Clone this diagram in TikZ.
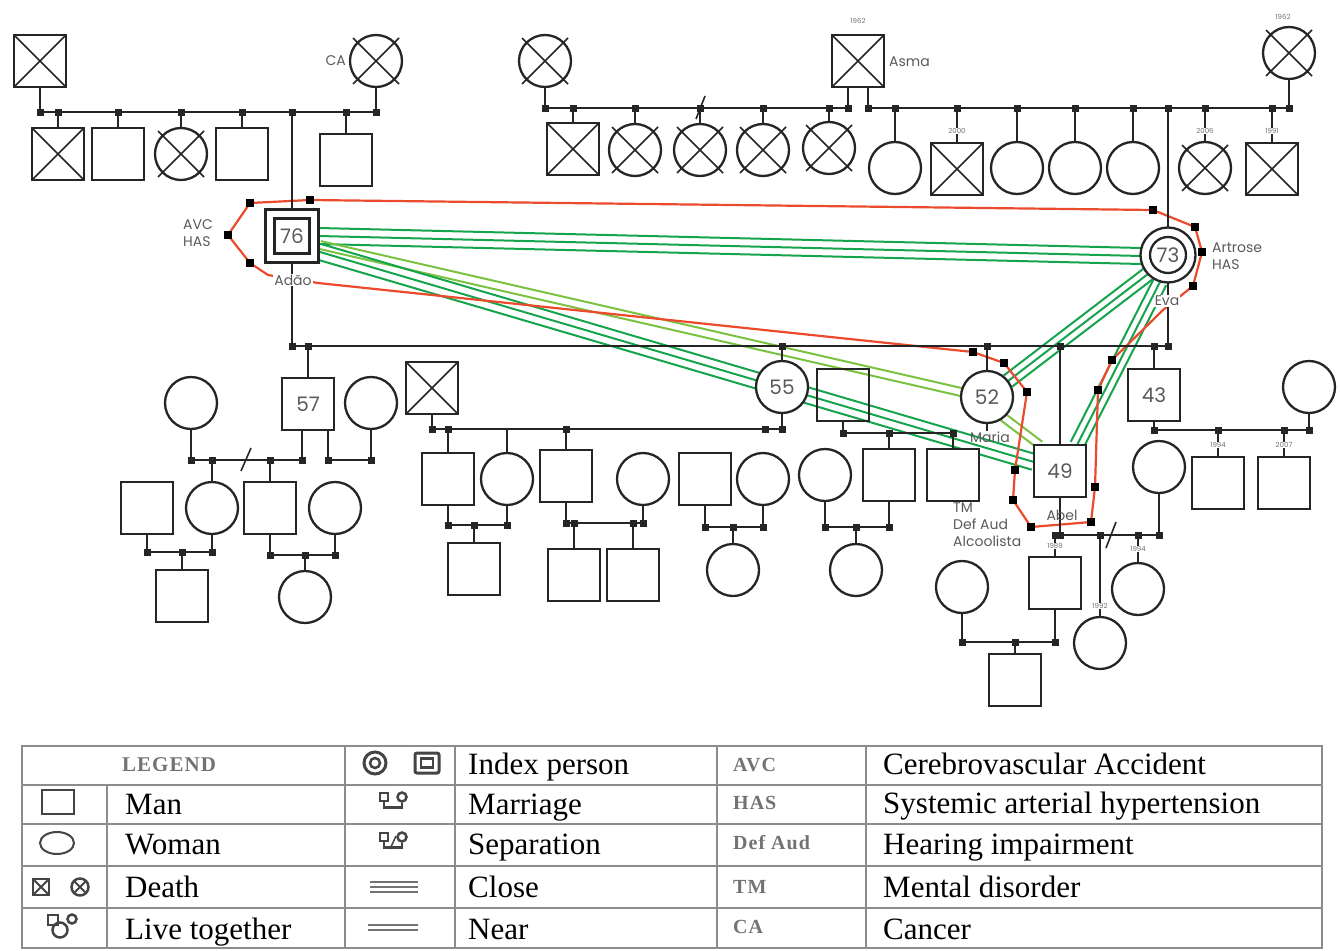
\documentclass[tikz,border=0pt]{standalone}
\usepackage{fontspec}
\setmainfont{Liberation Serif}
\newfontfamily\gfont{Poppins}
\newfontfamily\abfont[LetterSpace=5]{Liberation Serif}
\usetikzlibrary{calc,shapes.geometric}
\definecolor{redc}{HTML}{EC4A2C}
\definecolor{greenc}{HTML}{14A44C}
\definecolor{lgreenc}{HTML}{7CC242}
\definecolor{inkc}{HTML}{252525}
\definecolor{labc}{HTML}{5A5A5A}
\definecolor{tabc}{HTML}{8C8C8C}
\definecolor{legc}{HTML}{444444}
\newcommand\jd[1]{\fill[inkc] (#1) ++(-3.5,-3.5) rectangle ++(7,7);}
\newcommand\xout[1]{\draw[inkc,line width=1.6pt] ([shift={(-23,-23)}]#1.center) -- ([shift={(23,23)}]#1.center) ([shift={(-23,23)}]#1.center) -- ([shift={(23,-23)}]#1.center);}
\newcommand\drop[2]{\draw[fam] (#1.north) -- (#1.north |- #2); \jd{#1.north |- #2}}
\newcommand\dropn[2]{\draw[fam] (#1.north) -- (#1.north |- #2);}
\newcommand\bundle[4]{\foreach \o in {#4}{\draw[#1] ($(#2)!\o pt!90:(#3)$) -- ($(#3)!\o pt!-90:(#2)$);}}
\begin{document}
\begin{tikzpicture}[x=1pt,y=-1pt,
 sym/.style={draw=inkc, line width=2.3pt, fill=white, inner sep=0pt, outer sep=0pt},
 man/.style={sym, rectangle, minimum size=52pt},
 woman/.style={sym, circle, minimum size=52pt},
 deadsq/.style={man, path picture={\draw[inkc,line width=1.6pt] (path picture bounding box.north west) -- (path picture bounding box.south east) (path picture bounding box.south west) -- (path picture bounding box.north east);}},
 fam/.style={draw=inkc, line width=2.3pt},
 slash/.style={draw=inkc, line width=1.6pt},
 lbl/.style={font=\gfont\fontsize{14}{17}\selectfont, text=labc, inner sep=1pt},
 num/.style={font=\gfont\fontsize{20}{22}\selectfont, text=labc},
 yr/.style={font=\gfont\fontsize{7}{8}\selectfont, text=black!55, fill=white, inner sep=0.5pt},
 conf/.style={draw=redc, line width=2.2pt},
 closel/.style={draw=greenc, line width=2pt},
 nearl/.style={draw=lgreenc, line width=2pt},
 tab/.style={draw=tabc, line width=1.8pt},
 lt/.style={font=\fontsize{31}{33}\selectfont, anchor=base west, inner sep=0pt},
 ab/.style={font=\abfont\bfseries\fontsize{20}{22}\selectfont, text=black!55, anchor=base west, inner sep=0pt},
 lsym/.style={draw=legc, line width=2pt, inner sep=0pt}
]
\useasboundingbox (0,0) rectangle (1340,950);
\fill[white] (0,0) rectangle (1340,950);

% ---------- emotional relationship lines ----------
\coordinate (ae1) at (319,236); \coordinate (ae2) at (1141,256);
\coordinate (am1) at (320,245); \coordinate (am2) at (961,392);
\coordinate (ab1) at (320,252); \coordinate (ab2) at (1034,462);
\coordinate (em1) at (1148,274); \coordinate (em2) at (1008,381);
\coordinate (eb1) at (1160,282); \coordinate (eb2) at (1077,445);
\coordinate (mb1) at (1003,417); \coordinate (mb2) at (1040,445);
\bundle{closel}{ae1}{ae2}{-8,0,8}
\bundle{nearl}{am1}{am2}{-4,4}
\bundle{closel}{ab1}{ab2}{-8,0,8}
\bundle{closel}{em1}{em2}{-7,0,7}
\bundle{closel}{eb1}{eb2}{-7,0,7}
\bundle{nearl}{mb1}{mb2}{-4,4}

\draw[conf] (250,203) -- (310,200) -- (1153,210) -- (1195,227) -- (1202,252) -- (1193,286) -- (1163,310) -- (1112,360) -- (1098,390) -- (1095,487) -- (1091,522) -- (1031,527) -- (1013,500) -- (1015,470) -- (1027,392) -- (1004,363) -- (973,352) -- (318,283) -- (268,275) -- (250,263) -- (228,235) -- cycle;

% ---------- generation 1, left ----------
\node[deadsq] (p1) at (40,61) {};
\node[woman] (p2) at (376,61) {}; \xout{p2}
\node[deadsq] (c11) at (58,154) {};
\node[man] (c12) at (118,154) {};
\node[woman] (c13) at (181,154) {}; \xout{c13}
\node[man] (c14) at (242,154) {};
\node[man] (c15) at (346,160) {};

% ---------- generation 1, right ----------
\node[woman] (q1) at (545,61) {}; \xout{q1}
\node[deadsq] (asma) at (858,61) {};
\node[woman] (q2) at (1289,53) {}; \xout{q2}
\node[deadsq] (d1) at (573,149) {};
\node[woman] (d2) at (635,150) {}; \xout{d2}
\node[woman] (d3) at (700,150) {}; \xout{d3}
\node[woman] (d4) at (763,150) {}; \xout{d4}
\node[woman] (d5) at (829,148) {}; \xout{d5}
\node[woman] (e1) at (895,168) {};
\node[deadsq] (e2) at (957,169) {};
\node[woman] (e3) at (1017,168) {};
\node[woman] (e4) at (1075,168) {};
\node[woman] (e5) at (1133,168) {};
\node[woman] (e6) at (1205,168) {}; \xout{e6}
\node[deadsq] (e7) at (1272,169) {};

% ---------- index couple ----------
\node[man, minimum size=53pt] (adao) at (292,236) {};
\node[man, minimum size=35pt, num] (adaoi) at (292,236) {76};
\node[woman, minimum size=55pt] (eva) at (1168,255) {};
\node[woman, minimum size=36pt, num] (evai) at (1168,255) {73};

% ---------- generation 3 ----------
\node[man, num] (s57) at (308,404) {57};
\node[woman] (w57a) at (191,403) {};
\node[woman] (w57b) at (371,403) {};
\node[woman] (c571) at (212,508) {};
\node[man] (c572) at (270,508) {};
\node[man] (sp1) at (147,508) {};
\node[woman] (sp2) at (335,508) {};
\node[man] (gc1) at (182,596) {};
\node[woman] (gc2) at (305,597) {};

\node[deadsq] (h55) at (432,388) {};
\node[woman, num] (w55) at (782,387) {55};
\node[man] (c551) at (448,479) {};
\node[woman] (c552) at (507,479) {};
\node[man] (c553) at (566,476) {};
\node[woman] (c554) at (643,479) {};
\node[man] (gc3) at (474,569) {};
\node[man] (gc4) at (574,575) {};
\node[man] (gc5) at (633,575) {};
\node[man] (u1) at (705,479) {};
\node[woman] (u2) at (763,479) {};
\node[woman] (gc6) at (733,570) {};
\node[man, fill=none] (sq843) at (843,395) {};
\node[woman] (u3) at (825,475) {};
\node[man] (c8431) at (889,475) {};
\node[man] (c8432) at (953,475) {};
\node[woman] (gc7) at (856,570) {};

\node[woman, num] (maria) at (987,397) {52};
\node[man, num] (abel) at (1060,471) {49};
\node[woman] (aw) at (1159,467) {};
\node[man] (ac1) at (1055,583) {};
\node[woman] (ac2) at (1100,643) {};
\node[woman] (ac3) at (1138,589) {};
\node[woman] (acw) at (962,587) {};
\node[man] (ggc) at (1015,680) {};

\node[man, num] (s43) at (1154,395) {43};
\node[woman] (w43) at (1309,387) {};
\node[man] (c431) at (1218,483) {};
\node[man] (c432) at (1284,483) {};

% ---------- family lines ----------
\coordinate (l1a) at (40,112); \coordinate (l1b) at (376,112);
\draw[fam] (p1.south) -- (l1a) -- (l1b) -- (p2.south);
\jd{l1a} \jd{l1b}
\drop{c11}{l1a} \drop{c12}{l1a} \drop{c13}{l1a} \drop{c14}{l1a} \drop{c15}{l1a}
\draw[fam] (adao.north) -- (adao.north |- l1a); \jd{adao.north |- l1a}

\coordinate (l2a) at (545,108); \coordinate (l2b) at (848,108);
\coordinate (l2c) at (868,108); \coordinate (l2d) at (1289,108);
\draw[fam] (q1.south) -- (l2a) -- (l2b) -- ([xshift=-10pt]asma.south);
\draw[fam] ([xshift=10pt]asma.south) -- (l2c) -- (l2d) -- (q2.south);
\jd{l2a} \jd{l2b} \jd{l2c} \jd{l2d}
\drop{d1}{l2a} \drop{d2}{l2a} \drop{d3}{l2a} \drop{d4}{l2a} \drop{d5}{l2a}
\draw[slash] (696,119) -- (705,96);
\drop{e1}{l2c} \drop{e2}{l2c} \drop{e3}{l2c} \drop{e4}{l2c} \drop{e5}{l2c} \drop{e6}{l2c} \drop{e7}{l2c}
\draw[fam] (eva.north) -- (eva.north |- l2c); \jd{eva.north |- l2c}

\coordinate (l3a) at (292,346); \coordinate (l3b) at (1168,346);
\draw[fam] (adao.south) -- (l3a) -- (l3b) -- (eva.south);
\jd{l3a} \jd{l3b}
\drop{s57}{l3a} \drop{w55}{l3a} \drop{maria}{l3a} \drop{abel}{l3a} \drop{s43}{l3a}

\coordinate (m57a) at (191,460); \coordinate (m57b) at (302,460); \coordinate (m57c) at (328,460);
\draw[fam] (w57a.south) -- (m57a) -- (m57b) -- (m57b |- s57.south);
\draw[fam] (m57c |- s57.south) -- (m57c) -- (w57b.south |- m57c) -- (w57b.south);
\jd{m57a} \jd{m57b} \jd{m57c} \jd{w57b.south |- m57c}
\draw[slash] (241,471) -- (251,448);
\drop{c571}{m57a} \drop{c572}{m57a}
\coordinate (m1) at (147,552);
\draw[fam] (sp1.south) -- (m1) -- (c571.south |- m1) -- (c571.south);
\jd{m1} \jd{c571.south |- m1} \drop{gc1}{m1}
\coordinate (m2) at (270,555);
\draw[fam] (c572.south) -- (m2) -- (sp2.south |- m2) -- (sp2.south);
\jd{m2} \jd{sp2.south |- m2} \drop{gc2}{m2}

\coordinate (m55) at (432,429);
\draw[fam] (h55.south) -- (m55) -- (w55.south |- m55) -- (w55.south);
\jd{m55} \jd{w55.south |- m55} \jd{765,429}
\drop{c551}{m55} \dropn{c552}{m55} \drop{c553}{m55}
\coordinate (m3) at (448,525);
\draw[fam] (c551.south) -- (m3) -- (c552.south |- m3) -- (c552.south);
\jd{m3} \jd{c552.south |- m3} \drop{gc3}{m3}
\coordinate (m4) at (566,523);
\draw[fam] (c553.south) -- (m4) -- (c554.south |- m4) -- (c554.south);
\jd{m4} \jd{c554.south |- m4} \drop{gc4}{m4} \drop{gc5}{m4}
\coordinate (m5) at (705,527);
\draw[fam] (u1.south) -- (m5) -- (u2.south |- m5) -- (u2.south);
\jd{m5} \jd{u2.south |- m5} \drop{gc6}{m5}
\coordinate (m6) at (843,433);
\draw[fam] (sq843.south) -- (m6) -- (c8432.north |- m6);
\jd{m6} \drop{c8431}{m6} \drop{c8432}{m6}
\coordinate (m7) at (825,527);
\draw[fam] (u3.south) -- (m7) -- (c8431.south |- m7) -- (c8431.south);
\jd{m7} \jd{c8431.south |- m7} \drop{gc7}{m7}
\draw[fam] (maria.south) -- ++(0,8);

\coordinate (m8) at (1055,535);
\draw[fam] (abel.south) -- (abel.south |- m8);
\draw[fam] (m8) -- (aw.south |- m8) -- (aw.south);
\jd{m8} \jd{abel.south |- m8} \jd{aw.south |- m8}
\drop{ac1}{m8} \drop{ac2}{m8} \drop{ac3}{m8}
\draw[slash] (1106,548) -- (1116,522);
\coordinate (m9) at (962,642);
\draw[fam] (acw.south) -- (m9) -- (ac1.south |- m9) -- (ac1.south);
\jd{m9} \jd{ac1.south |- m9} \drop{ggc}{m9}

\coordinate (m10) at (1154,430);
\draw[fam] (s43.south) -- (m10) -- (w43.south |- m10) -- (w43.south);
\jd{m10} \jd{w43.south |- m10} \drop{c431}{m10} \drop{c432}{m10}

% red loop corner marks
\foreach \p in {(250,203),(310,200),(1153,210),(1195,227),(1202,252),(1193,286),(1112,360),(1098,390),(1095,487),(1091,522),(1031,527),(1013,500),(1015,470),(1027,392),(1004,363),(973,352),(250,263),(228,235)} {\fill[black] \p ++(-4,-4) rectangle ++(8,8);}

% ---------- labels ----------
\node[lbl, anchor=east] (lca) at (347,61) {CA};
\node[yr] (ya) at (858,21) {1962};
\node[lbl, anchor=west] (lasma) at (888,62) {Asma};
\node[yr] (yq2) at (1283,17) {1962};
\node[yr] (ye2) at (957,131) {2000};
\node[yr] (ye6) at (1205,131) {2006};
\node[yr] (ye7) at (1272,131) {1991};
\node[lbl, anchor=west, align=left] (ladao) at (182,233) {AVC\\HAS};
\node[lbl, fill=white] (nadao) at (293,280) {Adão};
\node[lbl, anchor=west, align=left] (leva) at (1211,256) {Artrose\\HAS};
\node[lbl, fill=white] (neva) at (1167,301) {Eva};
\node[lbl] (nmaria) at (990,437) {Maria};
\node[lbl] (nabel) at (1062,515) {Abel};
\node[lbl, anchor=north west, align=left] (ltm) at (952,502) {TM\\Def Aud\\Alcoolista};
\node[yr] (yac1) at (1055,546) {1989};
\node[yr] (yac2) at (1100,606) {1992};
\node[yr] (yac3) at (1138,549) {1994};
\node[yr] (yc431) at (1218,445) {1994};
\node[yr] (yc432) at (1284,445) {2007};

% ---------- legend ----------
\draw[tab] (22,746) rectangle (1322,948);
\draw[tab] (22,785) -- (1322,785) (22,824) -- (1322,824) (22,866) -- (1322,866) (22,908) -- (1322,908);
\draw[tab] (107,785) -- (107,948) (345,746) -- (345,948) (455,746) -- (455,948) (717,746) -- (717,948) (866,746) -- (866,948);

\node[ab, anchor=base, font=\abfont\bfseries\fontsize{21}{22}\selectfont] (tlegend) at (169,771) {LEGEND};
\node[lt] (t11) at (468,774) {Index person};
\node[lt] (t12) at (883,774) {Cerebrovascular Accident};
\node[ab] (a1) at (733,771) {AVC};
\node[lt] (t21) at (125,814) {Man};
\node[lt] (t22) at (468,814) {Marriage};
\node[ab] (a2) at (733,809) {HAS};
\node[lt] (t23) at (883,813) {Systemic arterial hypertension};
\node[lt] (t31) at (125,854) {Woman};
\node[lt] (t32) at (468,854) {Separation};
\node[ab] (a3) at (733,849) {Def Aud};
\node[lt] (t33) at (883,854) {Hearing impairment};
\node[lt] (t41) at (125,897) {Death};
\node[lt] (t42) at (468,897) {Close};
\node[ab] (a4) at (733,893) {TM};
\node[lt] (t43) at (883,897) {Mental disorder};
\node[lt] (t51) at (125,939) {Live together};
\node[lt] (t52) at (468,939) {Near};
\node[ab] (a5) at (733,933) {CA};
\node[lt] (t53) at (883,939) {Cancer};

% legend symbols
\node[lsym, circle, minimum size=22pt, line width=3pt] (si1) at (375,763) {};
\node[lsym, circle, minimum size=10pt, line width=2.5pt] (si2) at (375,763) {};
\node[lsym, rectangle, minimum width=24pt, minimum height=20pt, line width=3pt, rounded corners=2pt] (si3) at (427,763) {};
\node[lsym, rectangle, minimum width=12pt, minimum height=9pt, line width=2.5pt] (si4) at (427,763) {};
\node[lsym, rectangle, minimum width=32pt, minimum height=24pt] (sman) at (58,802) {};
\node[lsym, ellipse, minimum width=34pt, minimum height=22pt] (swoman) at (57,843) {};
\node[lsym, rectangle, minimum size=8pt, line width=2.5pt] (smar1) at (384,797) {};
\node[lsym, circle, minimum size=9pt, line width=2.5pt] (smar2) at (402,797) {};
\draw[draw=legc, line width=2.5pt] (smar1.south) -- ++(0,5) -| (smar2.south);
\node[lsym, rectangle, minimum size=8pt, line width=2.5pt] (ssep1) at (384,837) {};
\node[lsym, circle, minimum size=9pt, line width=2.5pt] (ssep2) at (402,837) {};
\draw[draw=legc, line width=2.5pt] (ssep1.south) -- ++(0,5) -| (ssep2.south);
\draw[draw=legc, line width=1.5pt] (390,849) -- (396,836);
\node[lsym, rectangle, minimum size=16pt, line width=2.5pt, path picture={\draw[legc,line width=2pt] (path picture bounding box.north west) -- (path picture bounding box.south east) (path picture bounding box.south west) -- (path picture bounding box.north east);}] (sd1) at (41,887) {};
\node[lsym, circle, minimum size=17pt, line width=2.5pt, path picture={\draw[legc,line width=2pt] (path picture bounding box.north west) -- (path picture bounding box.south east) (path picture bounding box.south west) -- (path picture bounding box.north east);}] (sd2) at (80,887) {};
\coordinate (sc1) at (370,882); \coordinate (sc2) at (418,882);
\draw[draw=black!55, line width=2pt] (sc1) -- (sc2) ([yshift=-5pt]sc1) -- ([yshift=-5pt]sc2) ([yshift=-10pt]sc1) -- ([yshift=-10pt]sc2);
\coordinate (sn1) at (368,925); \coordinate (sn2) at (418,925);
\draw[draw=black!55, line width=2.2pt] (sn1) -- (sn2) ([yshift=-5pt]sn1) -- ([yshift=-5pt]sn2);
\node[lsym, circle, minimum size=15pt, line width=2.5pt] (slt1) at (60,930) {};
\node[lsym, rectangle, minimum size=10pt, line width=2.5pt] (slt2) at (53,920) {};
\node[lsym, circle, minimum size=9pt, line width=2.5pt] (slt3) at (72,919) {};
\end{tikzpicture}
\end{document}
